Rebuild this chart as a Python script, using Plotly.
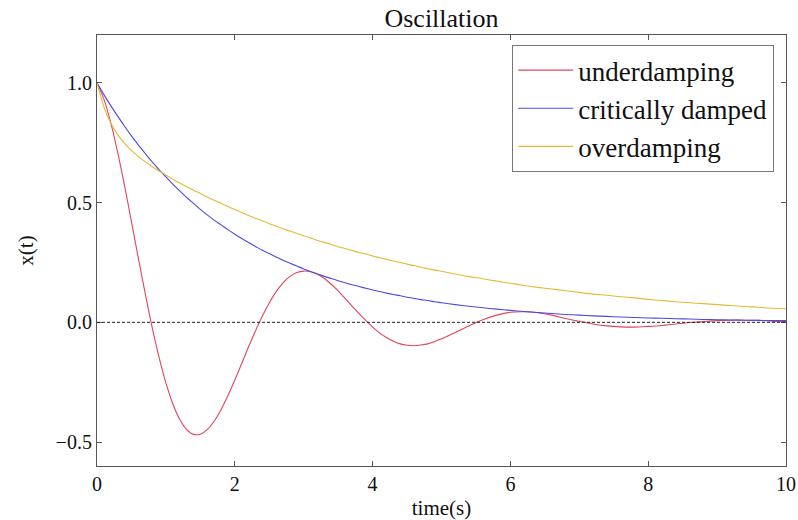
import plotly.graph_objects as go

# time samples (s)
t = [0.0, 0.1, 0.2, 0.3, 0.4, 0.5, 0.6, 0.7, 0.8, 0.9, 1.0,
     1.1, 1.2, 1.3, 1.4, 1.5, 1.6, 1.7, 1.8, 1.9, 2.0,
     2.1, 2.2, 2.3, 2.4, 2.5, 2.6, 2.7, 2.8, 2.9, 3.0,
     3.1, 3.2, 3.3, 3.4, 3.5, 3.6, 3.7, 3.8, 3.9, 4.0,
     4.1, 4.2, 4.3, 4.4, 4.5, 4.6, 4.7, 4.8, 4.9, 5.0,
     5.2, 5.4, 5.6, 5.8, 6.0, 6.2, 6.4, 6.6, 6.8, 7.0,
     7.2, 7.4, 7.6, 7.8, 8.0, 8.2, 8.4, 8.6, 8.8, 9.0,
     9.2, 9.4, 9.6, 9.8, 10.0]

underdamping = [1.000, 0.932, 0.833, 0.710, 0.571, 0.421, 0.268, 0.120, -0.020, -0.145, -0.253,
                -0.340, -0.405, -0.447, -0.468, -0.467, -0.448, -0.413, -0.365, -0.306, -0.241,
                -0.172, -0.102, -0.036, 0.026, 0.081, 0.128, 0.165, 0.192, 0.208, 0.214,
                0.211, 0.201, 0.183, 0.159, 0.131, 0.100, 0.069, 0.037, 0.008, -0.020,
                -0.044, -0.063, -0.079, -0.090, -0.096, -0.098, -0.095, -0.090, -0.080, -0.069,
                -0.042, -0.014, 0.011, 0.030, 0.042, 0.044, 0.040, 0.030, 0.016, 0.004,
                -0.007, -0.015, -0.019, -0.020, -0.017, -0.013, -0.007, -0.001, 0.003, 0.007,
                0.009, 0.009, 0.008, 0.005, 0.003]

critically_damped = [1.000, 0.951, 0.905, 0.861, 0.819, 0.779, 0.741, 0.705, 0.670, 0.638, 0.607,
                     0.577, 0.549, 0.522, 0.497, 0.472, 0.449, 0.427, 0.407, 0.387, 0.368,
                     0.350, 0.333, 0.317, 0.301, 0.287, 0.273, 0.259, 0.247, 0.235, 0.223,
                     0.212, 0.202, 0.192, 0.183, 0.174, 0.165, 0.157, 0.150, 0.142, 0.135,
                     0.129, 0.122, 0.116, 0.111, 0.105, 0.100, 0.095, 0.091, 0.086, 0.082,
                     0.074, 0.067, 0.061, 0.055, 0.050, 0.045, 0.041, 0.037, 0.033, 0.030,
                     0.027, 0.025, 0.022, 0.020, 0.018, 0.017, 0.015, 0.014, 0.012, 0.011,
                     0.010, 0.009, 0.008, 0.007, 0.007]

overdamping = [1.000, 0.900, 0.832, 0.784, 0.747, 0.717, 0.692, 0.671, 0.651, 0.632, 0.615,
               0.598, 0.582, 0.567, 0.552, 0.538, 0.523, 0.510, 0.497, 0.484, 0.471,
               0.459, 0.446, 0.435, 0.424, 0.412, 0.402, 0.391, 0.381, 0.371, 0.362,
               0.352, 0.342, 0.334, 0.325, 0.316, 0.308, 0.300, 0.292, 0.285, 0.277,
               0.270, 0.263, 0.256, 0.250, 0.243, 0.237, 0.230, 0.224, 0.218, 0.213,
               0.202, 0.191, 0.182, 0.172, 0.163, 0.154, 0.146, 0.139, 0.132, 0.125,
               0.118, 0.113, 0.107, 0.102, 0.096, 0.091, 0.086, 0.082, 0.078, 0.074,
               0.070, 0.066, 0.063, 0.059, 0.057]

series = [
    ("underdamping", underdamping, "#e2465a"),
    ("critically damped", critically_damped, "#4b4be0"),
    ("overdamping", overdamping, "#e8b735"),
]

x_ticks = [0, 2, 4, 6, 8, 10]
y_ticks = [-0.5, 0.0, 0.5, 1.0]

SERIF = "Liberation Serif"

fig = go.Figure()
for i, (name, vals, col) in enumerate(series):
    fig.add_trace(go.Scatter(
        x=t, y=vals, mode="lines", name=name,
        line=dict(color=col, width=1.1, shape="spline", smoothing=0.8),
        legendgroup=f"g{i}",
    ))

fig.add_hline(y=0, line=dict(color="#222222", width=1, dash="3px,2px"))

axis_common = dict(
    showline=True, linecolor="#555555", linewidth=1.2, mirror="ticks",
    ticks="inside", ticklen=5, tickcolor="#555555", showgrid=False, zeroline=False,
    tickfont=dict(family=SERIF, size=20, color="#111111"), automargin=False,
)

fig.update_layout(
    width=798, height=520,
    margin=dict(l=97, r=12, t=35, b=54),
    paper_bgcolor="white", plot_bgcolor="white",
    title=dict(text="Oscillation", x=0.5, xref="paper", y=0.965, yref="container",
               yanchor="middle", xanchor="center",
               font=dict(family=SERIF, size=26, color="#111111")),
    xaxis=dict(range=[0, 10], tickvals=x_ticks,
               title=dict(text="time(s)", font=dict(family=SERIF, size=21, color="#111111"),
                          standoff=12),
               **axis_common),
    yaxis=dict(range=[-0.6, 1.2], tickvals=y_ticks, tickformat=".1f",
               title=dict(text="x(t)", font=dict(family=SERIF, size=21, color="#111111"),
                          standoff=16),
               **axis_common),
    legend=dict(x=0.9826, y=0.977, xanchor="right", yanchor="top",
                bgcolor="white", bordercolor="#777777", borderwidth=1.2,
                font=dict(family=SERIF, size=27, color="#111111"),
                tracegroupgap=0, traceorder="grouped", itemwidth=55),
    showlegend=True,
)

fig.write_html("out.html")
